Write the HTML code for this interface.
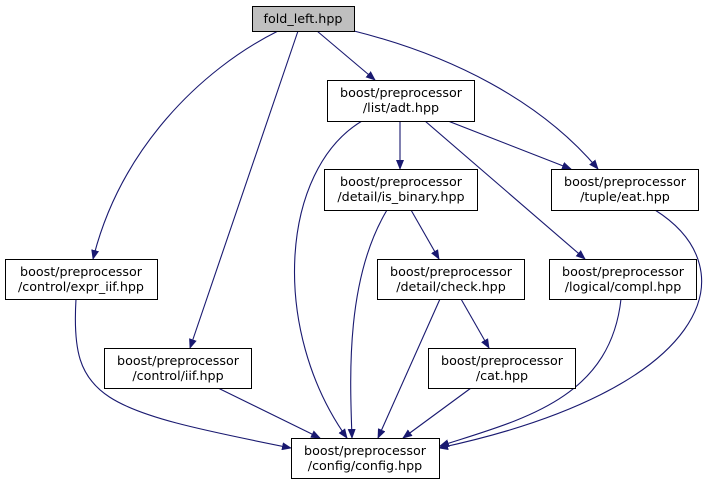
<!DOCTYPE html>
<html><head><meta charset="utf-8"><style>body{margin:0;background:#fff}svg{display:block}text{font-family:"DejaVu Sans","Liberation Sans",sans-serif;font-size:12.7px;fill:#000}</style></head><body>
<svg width="716" height="484" viewBox="0 0 716 484" xmlns="http://www.w3.org/2000/svg">
<defs><marker id="a" markerWidth="10" markerHeight="8" refX="9" refY="4" orient="auto" markerUnits="userSpaceOnUse"><path d="M0,0 L10,4 L0,8 Z" fill="#191970"/></marker></defs>
<g fill="none" stroke="#191970" stroke-width="1.1" marker-end="url(#a)">
<path d="M278,31 C200,70 120,150 93,259"/>
<path d="M298,31 L190,348"/>
<path d="M317,31 L375,80"/>
<path d="M354,31 C450,55 540,100 598,169"/>
<path d="M362,121 C280,170 270,330 347,438"/>
<path d="M400,121 L400,169"/>
<path d="M425,121 L585,259"/>
<path d="M448,121 L571,169"/>
<path d="M387,210 C345,280 350,380 352,438"/>
<path d="M411,210 L439,259"/>
<path d="M655,210 C750,270 710,390 439,448"/>
<path d="M76,299 C70,400 100,410 291,448"/>
<path d="M440,299 L378,438"/>
<path d="M461,299 L489,348"/>
<path d="M621,299 C610,400 520,420 440,446"/>
<path d="M218,388 L320,438"/>
<path d="M471,388 L403,438"/>
</g>
<g stroke="#000" stroke-width="1">
<rect x="252.5" y="6.5" width="102" height="25" fill="#bfbfbf"/>
<rect x="327.5" y="80.5" width="147" height="41" fill="#fff"/>
<rect x="324.5" y="169.5" width="153" height="41" fill="#fff"/>
<rect x="551.5" y="169.5" width="147" height="41" fill="#fff"/>
<rect x="5.5" y="259.5" width="152" height="40" fill="#fff"/>
<rect x="377.5" y="259.5" width="147" height="40" fill="#fff"/>
<rect x="549.5" y="259.5" width="147" height="40" fill="#fff"/>
<rect x="104.5" y="348.5" width="147" height="40" fill="#fff"/>
<rect x="428.5" y="348.5" width="147" height="40" fill="#fff"/>
<rect x="291.5" y="438.5" width="148" height="40" fill="#fff"/>
</g>
<g text-anchor="middle">
<text x="303" y="23">fold_left.hpp</text>
<text x="401" y="97">boost/preprocessor</text><text x="401" y="112">/list/adt.hpp</text>
<text x="401" y="186">boost/preprocessor</text><text x="401" y="201">/detail/is_binary.hpp</text>
<text x="625" y="186">boost/preprocessor</text><text x="625" y="201">/tuple/eat.hpp</text>
<text x="81" y="276">boost/preprocessor</text><text x="81" y="291">/control/expr_iif.hpp</text>
<text x="451" y="276">boost/preprocessor</text><text x="451" y="291">/detail/check.hpp</text>
<text x="623" y="276">boost/preprocessor</text><text x="623" y="291">/logical/compl.hpp</text>
<text x="178" y="365">boost/preprocessor</text><text x="178" y="380">/control/iif.hpp</text>
<text x="502" y="365">boost/preprocessor</text><text x="502" y="380">/cat.hpp</text>
<text x="365" y="455">boost/preprocessor</text><text x="365" y="470">/config/config.hpp</text>
</g>
</svg>
</body></html>
